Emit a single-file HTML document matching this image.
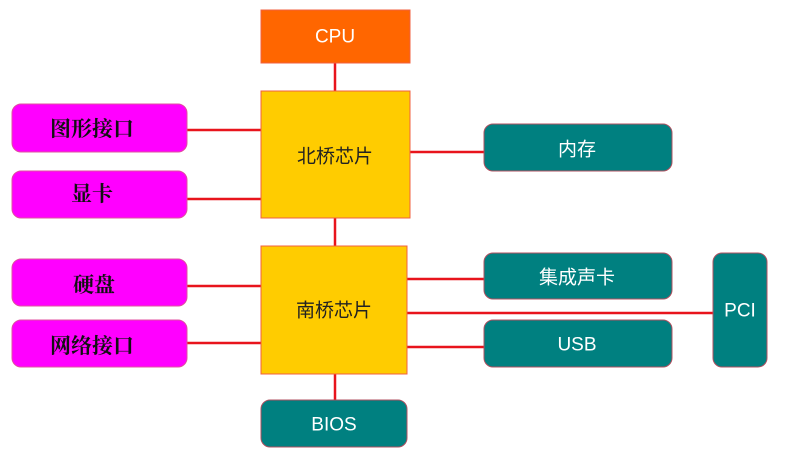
<!DOCTYPE html>
<html><head><meta charset="utf-8"><style>
html,body{margin:0;padding:0;background:#fff;}
svg{display:block;}
.w{font-family:"Liberation Sans","Noto Sans CJK SC",sans-serif;font-size:19px;fill:#fff;text-anchor:middle;dominant-baseline:central;}
.k{font-family:"Liberation Sans","Noto Sans CJK SC",sans-serif;font-size:19px;fill:#222;text-anchor:middle;dominant-baseline:central;}
.m{font-family:"Liberation Serif","Noto Serif CJK SC",serif;font-size:21px;font-weight:bold;fill:#111;text-anchor:middle;dominant-baseline:central;}
</style></head><body>
<svg width="785" height="460" viewBox="0 0 785 460" xmlns="http://www.w3.org/2000/svg">
<g stroke="#e8141c" stroke-width="2.5">
<line x1="335" y1="63" x2="335" y2="91"/>
<line x1="335" y1="218" x2="335" y2="246"/>
<line x1="335" y1="374" x2="335" y2="400"/>
<line x1="187" y1="130" x2="261" y2="130"/>
<line x1="187" y1="199" x2="261" y2="199"/>
<line x1="187" y1="286" x2="261" y2="286"/>
<line x1="187" y1="343" x2="261" y2="343"/>
<line x1="410" y1="152" x2="484" y2="152"/>
<line x1="407" y1="279" x2="484" y2="279"/>
<line x1="407" y1="313" x2="713" y2="313"/>
<line x1="407" y1="347" x2="484" y2="347"/>
</g>
<rect x="261" y="10" width="149" height="53" fill="#ff6600" stroke="#f06040" stroke-width="1"/>
<text class="w" x="335" y="37">CPU</text>
<rect x="261" y="91" width="149" height="127" fill="#ffcc00" stroke="#f06040" stroke-width="1"/>
<text class="k" x="335" y="157">北桥芯片</text>
<rect x="261" y="246" width="146" height="128" fill="#ffcc00" stroke="#f06040" stroke-width="1"/>
<text class="k" x="334" y="311">南桥芯片</text>
<g fill="#ff00ff" stroke="#e050a0" stroke-width="1">
<rect x="12" y="104" width="175" height="48" rx="9"/>
<rect x="12" y="171" width="175" height="47" rx="9"/>
<rect x="12" y="259" width="175" height="47" rx="9"/>
<rect x="12" y="320" width="175" height="47" rx="9"/>
</g>
<text class="m" x="92" y="129">图形接口</text>
<text class="m" x="92" y="194">显卡</text>
<text class="m" x="94" y="285">硬盘</text>
<text class="m" x="92" y="346">网络接口</text>
<g fill="#008080" stroke="#b05060" stroke-width="1">
<rect x="484" y="124" width="188" height="47" rx="9"/>
<rect x="484" y="253" width="188" height="46" rx="9"/>
<rect x="484" y="320" width="188" height="47" rx="9"/>
<rect x="713" y="253" width="54" height="114" rx="9"/>
<rect x="261" y="400" width="146" height="47" rx="9"/>
</g>
<text class="w" x="577" y="150">内存</text>
<text class="w" x="577" y="278">集成声卡</text>
<text class="w" x="577" y="345">USB</text>
<text class="w" x="740" y="311">PCI</text>
<text class="w" x="334" y="425">BIOS</text>
</svg>
</body></html>
